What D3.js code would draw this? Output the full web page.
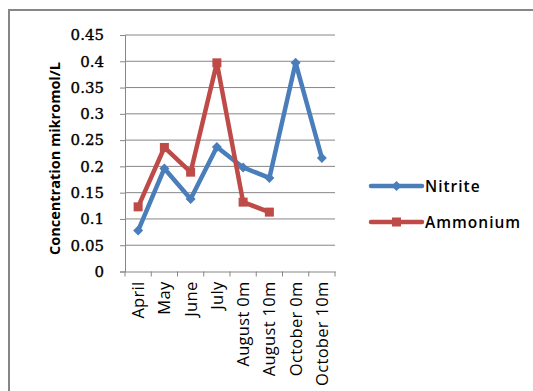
<!DOCTYPE html>
<html>
<head>
<meta charset="utf-8">
<script src="https://cdn.jsdelivr.net/npm/d3@7"></script>
<style>
  html, body { margin: 0; padding: 0; background: #fff; }
  svg { display: block; }
  text { font-family: "Open Sans", "Liberation Sans", sans-serif; }
</style>
</head>
<body>
<svg id="chart" width="533" height="391"></svg>
<script>
// Monthly sampling stations
const categories = ["April", "May", "June", "July", "August 0m", "August 10m", "October 0m", "October 10m"];
// Concentrations (mikromol/L)
const nitrite  = [0.078, 0.196, 0.138, 0.237, 0.198, 0.178, 0.397, 0.216];
const ammonium = [0.123, 0.236, 0.189, 0.397, 0.132, 0.113, null, null];
const yTicks = [0, 0.05, 0.1, 0.15, 0.2, 0.25, 0.3, 0.35, 0.4, 0.45];

const series = [
  { name: "Nitrite",  values: nitrite,  color: "#4a7ebb", marker: "diamond" },
  { name: "Ammonium", values: ammonium, color: "#be4b48", marker: "square" }
];

const svg = d3.select("#chart");

// Outer chart frame (runs past the right and bottom edges)
svg.append("rect")
  .attr("x", 9).attr("y", 10)
  .attr("width", 560).attr("height", 420)
  .attr("fill", "none").attr("stroke", "#868686").attr("stroke-width", 2);

const plot = { left: 125, right: 335, top: 35, bottom: 271.5 };

const x = d3.scaleBand().domain(categories).range([plot.left, plot.right]);
const y = d3.scaleLinear().domain([0, 0.45]).range([plot.bottom, plot.top]);

// Horizontal gridlines
svg.append("g").selectAll("line").data(yTicks.slice(1)).join("line")
  .attr("x1", plot.left).attr("x2", plot.right)
  .attr("y1", d => y(d)).attr("y2", d => y(d))
  .attr("stroke", "#868686").attr("stroke-width", 1);

// Y axis
const yAxis = svg.append("g")
  .attr("transform", `translate(${plot.left},0)`)
  .call(d3.axisLeft(y).tickValues(yTicks).tickSize(5).tickPadding(16).tickFormat(d => String(+d.toFixed(2))));
yAxis.select(".domain").attr("stroke", "#868686");
yAxis.selectAll(".tick line").attr("stroke", "#868686");
yAxis.selectAll(".tick text")
  .attr("fill", "#000").attr("font-size", 15).attr("font-weight", 400)
  .attr("stroke", "#000").attr("stroke-width", 0.35)
  .style("font-family", "'DejaVu Serif', serif");

// X axis
const xAxis = svg.append("g")
  .attr("transform", `translate(0,${plot.bottom})`)
  .call(d3.axisBottom(x).tickSize(5).tickSizeOuter(0).tickFormat(""));
xAxis.select(".domain").attr("stroke", "#868686");
xAxis.selectAll(".tick").remove();
// Ticks sit on the band boundaries
const bounds = categories.map(c => x(c)).concat([plot.right]);
xAxis.selectAll("line.bound").data(bounds).join("line")
  .attr("class", "bound")
  .attr("x1", d => d).attr("x2", d => d)
  .attr("y1", 0).attr("y2", 5)
  .attr("stroke", "#868686");

// Rotated category labels
svg.append("g").selectAll("text").data(categories).join("text")
  .attr("transform", d => `translate(${x(d) + x.bandwidth() / 2 + 6},${plot.bottom + 10}) rotate(-90)`)
  .attr("text-anchor", "end")
  .attr("font-size", 16.5)
  .attr("letter-spacing", 0.3)
  .attr("fill", "#000")
  .text(d => d);

// Y axis title
svg.append("text")
  .attr("transform", `translate(60,255) rotate(-90)`)
  .attr("text-anchor", "start")
  .attr("font-size", 14.5)
  .attr("font-weight", 700)
  .attr("fill", "#000")
  .text("Concentration mikromol/L");

// Series lines
const line = d3.line()
  .defined(d => d.v != null)
  .x(d => x(d.c) + x.bandwidth() / 2)
  .y(d => y(d.v));

function drawMarker(g, type, color, cx, cy) {
  if (type === "square") {
    g.append("rect").attr("x", cx - 4.5).attr("y", cy - 4.5)
      .attr("width", 9).attr("height", 9).attr("fill", color);
  } else {
    g.append("path")
      .attr("d", `M${cx},${cy - 5}L${cx + 5},${cy}L${cx},${cy + 5}L${cx - 5},${cy}Z`)
      .attr("fill", color);
  }
}

series.forEach(s => {
  const pts = categories.map((c, i) => ({ c, v: s.values[i] }));
  const g = svg.append("g");
  g.append("path")
    .datum(pts)
    .attr("d", line)
    .attr("fill", "none")
    .attr("stroke", s.color)
    .attr("stroke-width", 4.5)
    .attr("stroke-linejoin", "round");
  pts.filter(p => p.v != null).forEach(p =>
    drawMarker(g, s.marker, s.color, x(p.c) + x.bandwidth() / 2, y(p.v)));
});

// Legend
const legend = svg.append("g");
series.forEach((s, i) => {
  const ly = 186 + i * 36;
  const g = legend.append("g");
  g.append("line")
    .attr("x1", 371).attr("x2", 422).attr("y1", ly).attr("y2", ly)
    .attr("stroke", s.color).attr("stroke-width", 4.5).attr("stroke-linecap", "round");
  drawMarker(g, s.marker, s.color, 396.5, ly);
  g.append("text")
    .attr("x", 425).attr("y", ly + 5.5)
    .attr("font-size", 15.5)
    .attr("font-weight", 600)
    .attr("letter-spacing", 1)
    .attr("fill", "#000")
    .text(s.name);
});
</script>
</body>
</html>
